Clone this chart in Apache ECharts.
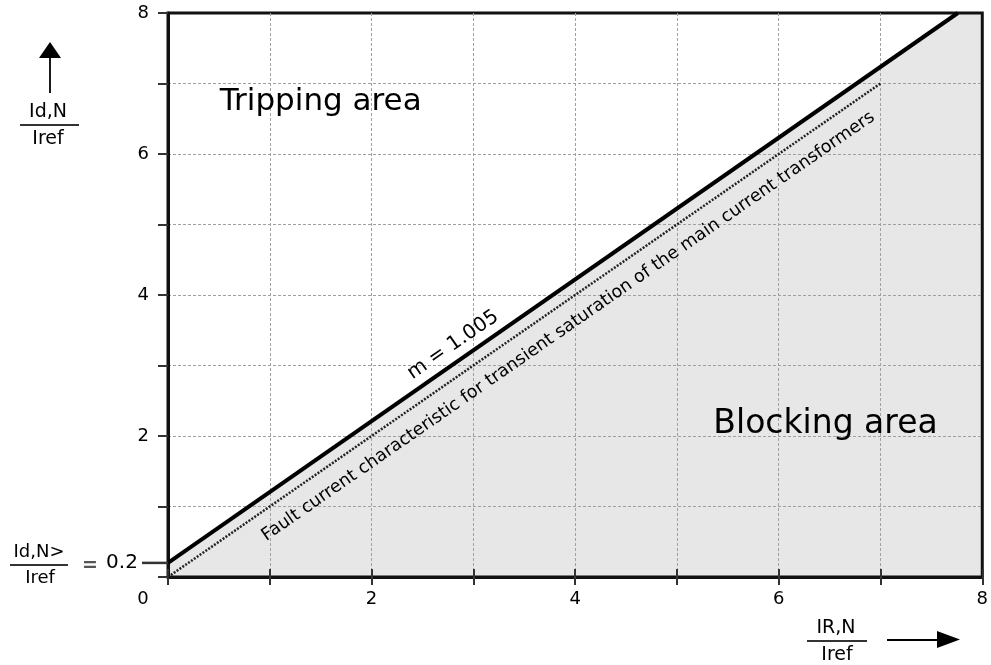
<!DOCTYPE html>
<html>
<head>
<meta charset="utf-8">
<script src="https://cdn.jsdelivr.net/npm/echarts@6/dist/echarts.min.js"></script>
<style>html,body{margin:0;padding:0;background:#fff}#c{width:991px;height:665px}</style>
</head>
<body>
<div id="c"></div>
<script>
// ---- data ----
const xRange = [0, 8];
const yRange = [0, 8];
const xTickLabels = [0, 2, 4, 6, 8];
const yTickLabels = [2, 4, 6, 8];
const pickup = 0.2;            // Id,N> / Iref
const slopeLabel = 'm = 1.005';
const trippingLine = [[0, 0.2], [7.76, 8]];          // tripping characteristic
const blockingArea = [[0, 0.2], [7.76, 8], [8, 8]];  // shaded region below the characteristic
const faultLine = [[0, 0], [7, 7]];                  // fault current characteristic (dotted)
const trippingText = 'Tripping area';
const blockingText = 'Blocking area';
const faultText = 'Fault current characteristic for transient saturation of the main current transformers';
const trippingPos = [1.50, 6.74];
const blockingPos = [6.46, 2.17];

const FONT = 'DejaVu Sans';
const chart = echarts.init(document.getElementById('c'));

const gridLine = { show: true, showMinLine: false, showMaxLine: false, lineStyle: { type: [3, 2], color: '#a0a0a0', width: 1 } };

chart.setOption({
  animation: false,
  grid: { left: 168, right: 3, top: 13, bottom: 88, show: true, borderColor: '#111', borderWidth: 3, backgroundColor: 'transparent' },
  xAxis: [{
    type: 'value', min: xRange[0], max: xRange[1], interval: 1,
    axisLine: { lineStyle: { color: '#111', width: 3 } },
    axisTick: { length: 8, lineStyle: { color: '#333', width: 2 } },
    axisLabel: {
      fontSize: 18, fontFamily: FONT, color: '#000', margin: 13,
      formatter: v => xTickLabels.indexOf(v) < 0 ? '' : (v === 0 ? '{z|0}' : String(v)),
      rich: { z: { padding: [0, 50, 0, 0], fontSize: 18, fontFamily: FONT, color: '#000' } }
    },
    splitLine: gridLine
  }, {
    type: 'value', min: xRange[0], max: xRange[1], interval: 1, position: 'bottom',
    axisLine: { show: false },
    axisTick: { inside: true, length: 8, lineStyle: { color: '#333', width: 2 } },
    axisLabel: { show: false }, splitLine: { show: false }
  }],
  yAxis: {
    type: 'value', min: yRange[0], max: yRange[1], interval: 1,
    axisLine: { show: true, lineStyle: { color: '#111', width: 3 } },
    axisTick: { show: true, length: 10, lineStyle: { color: '#333', width: 2 } },
    axisLabel: {
      fontSize: 18, fontFamily: FONT, color: '#000', margin: 19, padding: [5, 0, 0, 0],
      formatter: v => yTickLabels.indexOf(v) < 0 ? '' : String(v)
    },
    splitLine: gridLine
  },
  series: [{
    type: 'line', data: blockingArea, symbol: 'none', z: -1,
    lineStyle: { width: 0 }, areaStyle: { color: '#e7e7e7', opacity: 1, origin: 'start' }
  }, {
    type: 'line', data: trippingLine, symbol: 'none', z: 4,
    lineStyle: { color: '#000', width: 4 }
  }, {
    type: 'line', data: faultLine, symbol: 'none', z: 3,
    lineStyle: { color: '#222', width: 2.5, type: [2, 1.5] }
  }]
});

// ---- annotations ----
const px = p => chart.convertToPixel({ xAxisIndex: 0, yAxisIndex: 0 }, p);
const p0 = px([0, 0]), p1 = px([1, 1]);
const ux = p1[0] - p0[0], uy = p0[1] - p1[1];
const angTrip = Math.atan2((trippingLine[1][1] - trippingLine[0][1]) * uy, (trippingLine[1][0] - trippingLine[0][0]) * ux);
const angFault = Math.atan2((faultLine[1][1] - faultLine[0][1]) * uy, (faultLine[1][0] - faultLine[0][0]) * ux);

function onLine(line, x) {
  const [a, b] = line;
  return [x, a[1] + (b[1] - a[1]) * (x - a[0]) / (b[0] - a[0])];
}
function offsetPt(pt, ang, d) { // d>0: above-left normal
  return [pt[0] - Math.sin(ang) * d, pt[1] - Math.cos(ang) * d];
}
const mCenter = offsetPt(px(onLine(trippingLine, 2.89)), angTrip, 16);
const fCenter = offsetPt(px(onLine(faultLine, 3.81)), angFault, -22);
const tickY = px([0, pickup]);
const tp = px(trippingPos), bp = px(blockingPos);

const txt = (x, y, text, size, extra) => Object.assign({
  type: 'text', x: x, y: y, z: 10,
  style: { text: text, fontSize: size, fontFamily: FONT, fill: '#000', align: 'center', verticalAlign: 'middle' }
}, extra || {});

chart.setOption({
  graphic: [
    txt(tp[0], tp[1], trippingText, 31),
    txt(bp[0], bp[1], blockingText, 33),
    txt(mCenter[0], mCenter[1], slopeLabel, 20, { rotation: angTrip }),
    txt(fCenter[0], fCenter[1], faultText, 17.6, { rotation: angFault }),
    // pickup tick
    { type: 'line', z: 10, shape: { x1: 142, y1: tickY[1], x2: tickY[0], y2: tickY[1] }, style: { stroke: '#333', lineWidth: 2.5 } },
    // y-axis quantity (top-left)
    txt(48, 112, 'Id,N', 19),
    { type: 'line', shape: { x1: 20, y1: 125, x2: 79, y2: 125 }, style: { stroke: '#333', lineWidth: 2 } },
    txt(48, 139, 'Iref', 19),
    { type: 'line', shape: { x1: 50, y1: 93, x2: 50, y2: 55 }, style: { stroke: '#000', lineWidth: 1.8 } },
    { type: 'polygon', shape: { points: [[50, 42], [39, 58], [61, 58]] }, style: { fill: '#000' } },
    // pickup label (bottom-left)
    txt(39, 552, 'Id,N>', 18),
    { type: 'line', shape: { x1: 10, y1: 565, x2: 68, y2: 565 }, style: { stroke: '#333', lineWidth: 2 } },
    txt(40, 578, 'Iref', 18),
    txt(90, 566, '=', 19, { style: { text: '=', fontSize: 19, fontFamily: FONT, fill: '#555', align: 'center', verticalAlign: 'middle', fontWeight: 'bold' } }),
    txt(122, 563, '0.' + String(pickup).split('.')[1], 20),
    // x-axis quantity (bottom-right)
    txt(836, 628, 'IR,N', 19),
    { type: 'line', shape: { x1: 807, y1: 641, x2: 867, y2: 641 }, style: { stroke: '#333', lineWidth: 2 } },
    txt(837, 655, 'Iref', 19),
    { type: 'line', shape: { x1: 887, y1: 640, x2: 940, y2: 640 }, style: { stroke: '#000', lineWidth: 1.8 } },
    { type: 'polygon', shape: { points: [[960, 639.5], [937, 631], [937, 648]] }, style: { fill: '#000' } }
  ]
});
</script>
</body>
</html>
